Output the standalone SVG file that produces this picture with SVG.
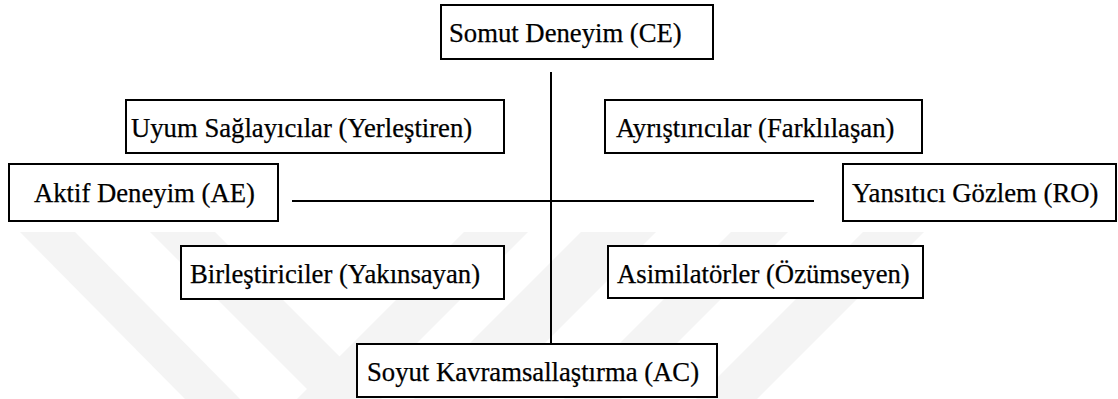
<svg xmlns="http://www.w3.org/2000/svg" width="1118" height="399" viewBox="0 0 1118 399">
<style>
.box{fill:#fff;stroke:#000;stroke-width:2}
.t{font-family:"Liberation Serif","Times New Roman",serif;font-size:26.7px;fill:#000;stroke:#000;stroke-width:0.25}
.ln{stroke:#000;stroke-width:2;fill:none}
.wm{fill:#f4f4f4}
</style>
<rect x="0" y="0" width="1118" height="399" fill="#fff"/>
<g id="watermark">
<polygon class="wm" points="20,232 75,232 240,399 185,399"/>
<polygon class="wm" points="150,232 215,232 382,399 317,399"/>
<polygon class="wm" points="464,232 528,232 361,399 297,399"/>
<polygon class="wm" points="581,232 656,232 489,399 414,399"/>
<polygon class="wm" points="731,232 788,232 621,399 564,399"/>
<polygon class="wm" points="863,232 924,232 757,399 696,399"/>
</g>
<g id="connectors">
<line class="ln" x1="551" y1="72" x2="551" y2="344"/>
<line class="ln" x1="292" y1="201" x2="814" y2="201"/>
</g>
<g id="ce"><rect class="box" x="441" y="5" width="272" height="54"/><text class="t" x="449" y="42">Somut Deneyim (CE)</text></g>
<g id="uyum"><rect class="box" x="126" y="100" width="378" height="53"/><text class="t" x="131" y="137">Uyum Sağlayıcılar (Yerleştiren)</text></g>
<g id="ayr"><rect class="box" x="605" y="100" width="317" height="53"/><text class="t" x="616" y="137">Ayrıştırıcılar (Farklılaşan)</text></g>
<g id="ae"><rect class="box" x="9" y="164" width="269" height="57"/><text class="t" x="34" y="202">Aktif Deneyim (AE)</text></g>
<g id="ro"><rect class="box" x="843" y="164" width="273" height="57"/><text class="t" x="852" y="202">Yansıtıcı Gözlem (RO)</text></g>
<g id="bir"><rect class="box" x="181" y="246" width="323" height="53"/><text class="t" x="190" y="283">Birleştiriciler (Yakınsayan)</text></g>
<g id="asi"><rect class="box" x="608" y="246" width="315" height="52"/><text class="t" x="617" y="283">Asimilatörler (Özümseyen)</text></g>
<g id="ac"><rect class="box" x="357" y="344" width="360" height="53"/><text class="t" x="367" y="381">Soyut Kavramsallaştırma (AC)</text></g>
</svg>
